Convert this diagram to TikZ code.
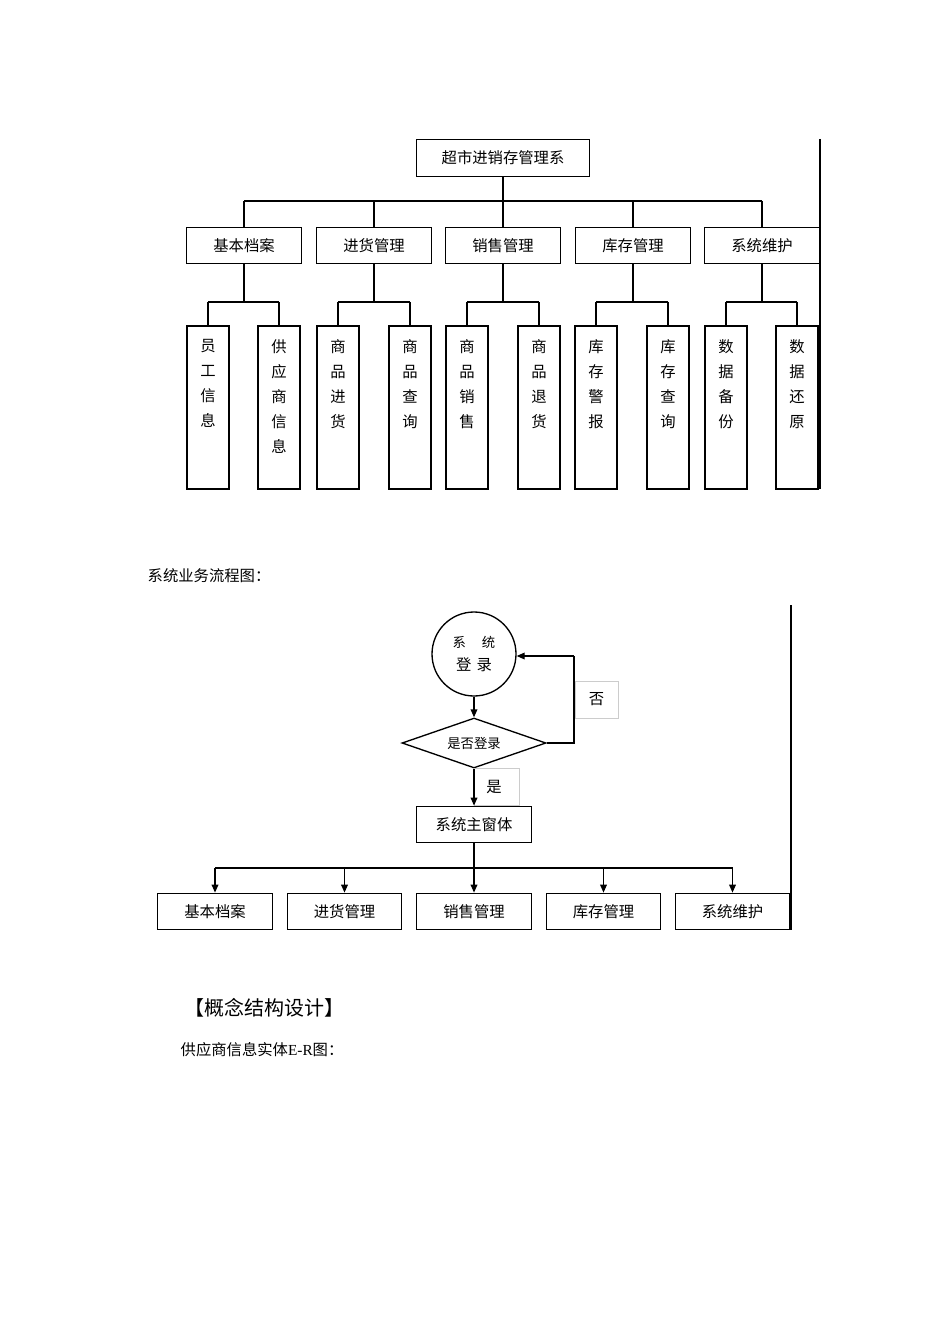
\documentclass[tikz,border=0pt]{standalone}
\usepackage{fontspec}
\setmainfont{Liberation Serif}
\newfontfamily\cjk{Noto Sans CJK SC}
\usetikzlibrary{shapes.geometric,arrows.meta}
\begin{document}
\begin{tikzpicture}[x=0.75pt,y=-0.75pt,font=\cjk\fontsize{11.5}{13}\selectfont,
 box/.style={draw,line width=0.8pt,minimum width=86pt,minimum height=27.5pt,inner sep=0},
 leaf/.style={draw,line width=1.4pt,minimum width=32pt,minimum height=122pt,inner sep=0},
 ln/.style={line width=0.8pt},
 ar/.style={line width=1pt,-{Triangle[length=6pt,width=5pt]}},
 lab/.style={draw=gray!40,line width=0.5pt,minimum width=32pt,minimum height=28pt,inner sep=0}]
\useasboundingbox (0,0) rectangle (950,1344);
% tree
\node[box,minimum width=130pt] (root) at (503,158) {超市进销存管理系};
\coordinate (b0) at (503,201);
\foreach \n/\x/\t in {m1/244/基本档案,m2/374/进货管理,m3/503/销售管理,m4/633/库存管理,m5/762/系统维护}{
 \node[box] (\n) at (\x,245.5) {\t};
 \coordinate (\n t) at (\x,201);
 \coordinate (\n b) at (\x,302);
}
\draw[ln] (root) -- (b0);
\draw[ln] (m1t) -- (m5t);
\foreach \n in {m1,m2,m3,m4,m5}{\draw[ln] (\n t) -- (\n); \draw[ln] (\n) -- (\n b);}
\foreach \n/\x/\t in {l1/208/员\\工\\信\\息,l2/279/供\\应\\商\\信\\息,l3/338/商\\品\\进\\货,l4/410/商\\品\\查\\询,l5/467/商\\品\\销\\售,l6/539/商\\品\\退\\货,l7/596/库\\存\\警\\报,l8/668/库\\存\\查\\询,l9/726/数\\据\\备\\份,l10/797/数\\据\\还\\原}{
 \node[leaf] (\n) at (\x,407.5) {};
 \node[align=center,anchor=north,font=\cjk\fontsize{11.5}{18.75}\selectfont] at (\x,335) {\t};
 \coordinate (\n t) at (\x,302);
}
\foreach \m/\a/\b in {m1/l1/l2,m2/l3/l4,m3/l5/l6,m4/l7/l8,m5/l9/l10}{
 \draw[ln] (\a t) -- (\b t); \draw[ln] (\a t) -- (\a); \draw[ln] (\b t) -- (\b);}
\coordinate (r1) at (820,139); \coordinate (r2) at (820,489);
\draw[ln] (r1) -- (r2);
% flow
\node[anchor=west] (cap) at (143,576) {系统业务流程图：};
\node[draw,circle,line width=1pt,minimum size=63pt,align=center,font=\cjk\fontsize{10}{17}\selectfont] (login) at (474,654) {系\hspace{1.2em}统\\{\fontsize{11.5}{13}\selectfont 登\,\,录}};
\node[draw,diamond,aspect=2.9,line width=1pt,minimum width=108pt,minimum height=37.5pt,inner sep=0,font=\cjk\fontsize{10}{12}\selectfont] (dec) at (474,743) {\raisebox{-3pt}{是否登录}};
\node[lab] (no) at (596.5,699.5) {否};
\node[draw=gray!40,line width=0.5pt,minimum width=34pt,minimum height=28pt,inner sep=0] (yesb) at (496.5,787) {};
\node (yes) at (494,787) {是};
\node[box] (main) at (474,824.5) {系统主窗体};
\coordinate (c1) at (574,743); \coordinate (c2) at (574,656);
\draw[ln,line width=1pt] (dec.east) -- (c1) -- (c2);
\draw[ar] (c2) -- (login.east|-c2);
\draw[ar] (login) -- (dec);
\draw[ar] (dec) -- (main);
\coordinate (f0) at (474,868);
\draw[ln,line width=1pt] (main) -- (f0);
\foreach \n/\x/\t in {f1/215/基本档案,f2/344.5/进货管理,f3/474/销售管理,f4/603.5/库存管理,f5/732.5/系统维护}{
 \node[box] (\n) at (\x,911.5) {\t};
 \coordinate (\n t) at (\x,868);
 \draw[ar] (\n t) -- (\n);
}
\draw[ln,line width=1pt] (f1t) -- (f5t);
\coordinate (s1) at (791,605); \coordinate (s2) at (791,930);
\draw[ln] (s1) -- (s2);
\node[anchor=west,font=\cjk\fontsize{15}{18}\selectfont] (h) at (180,1008) {【概念结构设计】};
\node[anchor=west] (er) at (176,1050) {供应商信息实体{\rmfamily E-R}图：};
\end{tikzpicture}
\end{document}
